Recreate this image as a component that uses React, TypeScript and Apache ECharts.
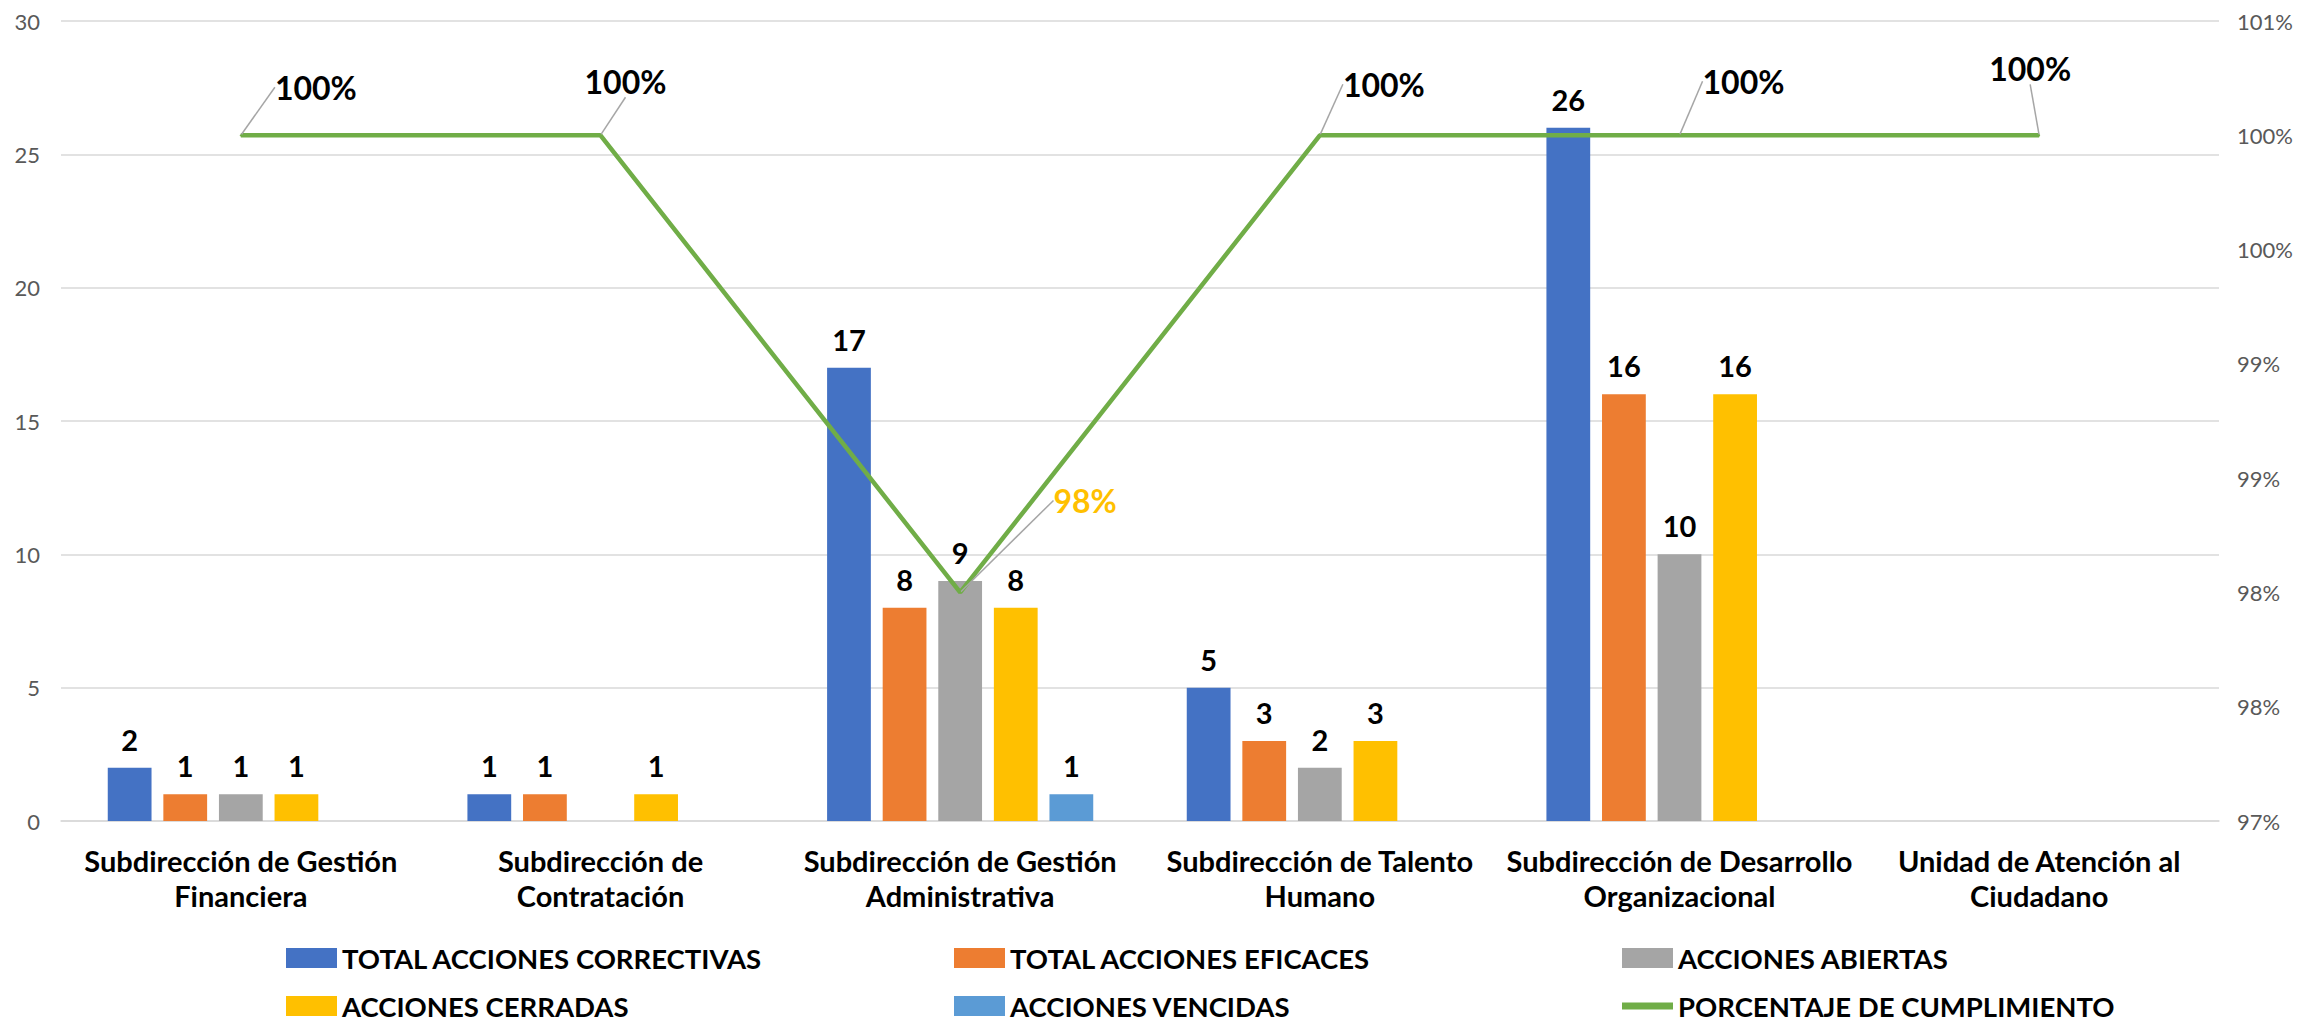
import React, { useEffect, useRef } from "react";
import * as echarts from "echarts";

const categories = [
  "Subdirección de Gestión\nFinanciera",
  "Subdirección de\nContratación",
  "Subdirección de Gestión\nAdministrativa",
  "Subdirección de Talento\nHumano",
  "Subdirección de Desarrollo\nOrganizacional",
  "Unidad de Atención al\nCiudadano",
];
const totalCorrectivas = [2, 1, 17, 5, 26, 0];
const totalEficaces = [1, 1, 8, 3, 16, 0];
const accionesAbiertas = [1, 0, 9, 2, 10, 0];
const accionesCerradas = [1, 1, 8, 3, 16, 0];
const accionesVencidas = [0, 0, 1, 0, 0, 0];
const porcentajeCumplimiento = [1, 1, 0.98, 1, 1, 1];

const seriesNames = [
  "TOTAL ACCIONES CORRECTIVAS",
  "TOTAL ACCIONES EFICACES",
  "ACCIONES ABIERTAS",
  "ACCIONES CERRADAS",
  "ACCIONES VENCIDAS",
  "PORCENTAJE DE CUMPLIMIENTO",
];

// label placement offsets for the percentage callouts (styling only)
const pctLabelOffsets = [
  [75, -48],
  [25, -54],
  [125, -92],
  [64, -51],
  [64, -54],
  [-9, -67],
];

const FONT = "Lato, 'Open Sans', sans-serif";

export default function App() {
  const ref = useRef<HTMLDivElement>(null);
  useEffect(() => {
    if (!ref.current) return;
    const chart = echarts.init(ref.current, undefined, { renderer: "svg" });
    const barColors = ["#4472C4", "#ED7D31", "#A5A5A5", "#FFC000", "#5B9BD5"];
    const barData = [totalCorrectivas, totalEficaces, accionesAbiertas, accionesCerradas, accionesVencidas];
    const barSeries = barData.map((d, i) => ({
      name: seriesNames[i],
      type: "bar",
      yAxisIndex: 0,
      data: d,
      barGap: "27%",
      barCategoryGap: "26%",
      itemStyle: { color: barColors[i] },
      label: {
        show: true,
        position: "top",
        distance: 14,
        color: "#000",
        fontFamily: FONT,
        fontWeight: "bold",
        fontSize: 29,
        formatter: (p: any) => (p.value ? String(p.value) : ""),
      },
    }));
    const option: any = {
      animation: false,
      textStyle: { fontFamily: FONT },
      grid: { left: 61, right: 79, top: 21, bottom: 205, containLabel: false },
      legend: {
        left: 281,
        top: 935,
        width: 2010,
        itemWidth: 51,
        itemHeight: 20,
        itemGap: 12,
        textStyle: {
          width: 600,
          lineHeight: 36,
          color: "#000",
          fontFamily: FONT,
          fontWeight: "bold",
          fontSize: 27.5,
        },
        data: seriesNames.map((n, i) =>
          i === 5 ? { name: n, icon: "path://M0,0L51,0L51,7L0,7Z", itemStyle: { color: "#70AD47" } } : { name: n, icon: "rect" }
        ),
      },
      xAxis: {
        type: "category",
        data: categories,
        axisTick: { show: false },
        axisLine: { lineStyle: { color: "#D9D9D9", width: 1.5 } },
        axisLabel: {
          interval: 0,
          margin: 22,
          color: "#000",
          fontFamily: FONT,
          fontWeight: "bold",
          fontSize: 29,
          lineHeight: 35,
        },
      },
      yAxis: [
        {
          type: "value",
          min: 0,
          max: 30,
          interval: 5,
          axisLine: { show: false },
          axisTick: { show: false },
          splitLine: { lineStyle: { color: "#D9D9D9", width: 1.5 } },
          axisLabel: { color: "#595959", fontSize: 22, fontFamily: FONT, margin: 21 },
        },
        {
          type: "value",
          min: 0.97,
          max: 1.005,
          interval: 0.005,
          position: "right",
          axisLine: { show: false },
          axisTick: { show: false },
          splitLine: { show: false },
          axisLabel: {
            color: "#595959",
            fontSize: 22,
            fontFamily: FONT,
            margin: 18,
            formatter: (v: number) => Math.round(v * 100 + 1e-6) + "%",
          },
        },
      ],
      series: [
        ...barSeries,
        {
          name: seriesNames[5],
          type: "line",
          yAxisIndex: 1,
          data: porcentajeCumplimiento.map((v) =>
            v < 1 ? { value: v, label: { color: "#FFC000" } } : v
          ),
          symbol: "circle",
          symbolSize: 2,
          z: 5,
          lineStyle: { color: "#70AD47", width: 4.5 },
          itemStyle: { color: "#70AD47" },
          label: {
            show: true,
            position: "inside",
            fontFamily: FONT,
            fontWeight: "bold",
            fontSize: 32,
            formatter: (p: any) => Math.round(p.value * 100) + "%",
            color: "#000",
          },
          labelLine: { show: true, lineStyle: { color: "#A6A6A6", width: 1.5 } },
          labelLayout: (params: any) => {
            const o = pctLabelOffsets[params.dataIndex] || [0, -40];
            return { dx: o[0], dy: o[1] };
          },
        },
      ],
    };
    chart.setOption(option);
    return () => chart.dispose();
  }, []);
  return (
    <div
      ref={ref}
      style={{ position: "absolute", left: 0, top: 0, width: 2298, height: 1026, background: "#fff" }}
    />
  );
}
